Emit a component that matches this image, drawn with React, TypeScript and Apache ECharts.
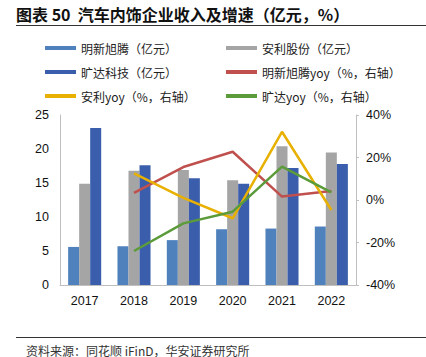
import React, { useEffect, useRef } from "react";
import * as echarts from "echarts";

const years = ["2017", "2018", "2019", "2020", "2021", "2022"];
const mingxinRev = [5.6, 5.7, 6.6, 8.2, 8.3, 8.6];
const anliRev = [14.9, 16.8, 16.9, 15.4, 20.4, 19.5];
const kuangdaRev = [23.1, 17.6, 15.7, 14.9, 17.2, 17.8];
const mingxinYoy: (number | string)[] = ["-", 3.4, 15.5, 22.7, 1.6, 4.2];
const anliYoy: (number | string)[] = ["-", 12.5, 1.0, -8.6, 32.1, -4.7];
const kuangdaYoy: (number | string)[] = ["-", -24, -11, -5.5, 15.7, 3.6];

const names = [
  "明新旭腾（亿元）",
  "安利股份（亿元）",
  "旷达科技（亿元）",
  "明新旭腾yoy（%，右轴）",
  "安利yoy（%，右轴）",
  "旷达yoy（%，右轴）",
];

const C_LBLUE = "#4F81BD";
const C_GRAY = "#A5A5A5";
const C_DBLUE = "#3A5EAB";
const C_RED = "#C0504D";
const C_YEL = "#E8B000";
const C_GREEN = "#5B9B3A";

const CJK = '"Noto Sans CJK SC", sans-serif';
const LAT = '"Liberation Sans", Arial, sans-serif';

export default function App() {
  const ref = useRef<HTMLDivElement>(null);
  useEffect(() => {
    if (!ref.current) return;
    const chart = echarts.init(ref.current, undefined, { renderer: "svg" });
    const legendCommon = {
      orient: "vertical" as const,
      top: 41,
      padding: 0,
      icon: "rect",
      itemWidth: 31,
      itemHeight: 4,
      itemGap: 10,
      textStyle: { fontFamily: CJK, fontSize: 12, color: "#222", lineHeight: 14 },
      selectedMode: false,
    };
    chart.setOption({
      animation: false,
      backgroundColor: "#fff",
      graphic: [
        {
          type: "text",
          x: 16,
          y: 14,
          style: {
            text: "图表 50  汽车内饰企业收入及增速（亿元，%）",
            font: `bold 16px ${CJK}`,
            fill: "#111",
            verticalAlign: "middle",
          },
        },
        {
          type: "line",
          shape: { x1: 16, y1: 25.5, x2: 426, y2: 25.5 },
          style: { stroke: "#333", lineWidth: 1 },
        },
        {
          type: "line",
          shape: { x1: 16, y1: 337.5, x2: 426, y2: 337.5 },
          style: { stroke: "#333", lineWidth: 1 },
        },
        {
          type: "text",
          x: 26,
          y: 350,
          style: {
            text: "资料来源：同花顺 iFinD，华安证券研究所",
            font: `12px ${CJK}`,
            fill: "#333",
            verticalAlign: "middle",
            lineHeight: 12,
          },
        },
      ],
      legend: [
        { ...legendCommon, left: 45, data: [names[0], names[2], names[4]] },
        { ...legendCommon, left: 226, data: [names[1], names[3], names[5]] },
      ],
      grid: { left: 60, right: 70, top: 115, bottom: 72 },
      xAxis: {
        type: "category",
        data: years,
        axisLine: { lineStyle: { color: "#BFBFBF" } },
        axisTick: { show: false },
        axisLabel: { color: "#111", fontFamily: LAT, fontSize: 12.5, margin: 9 },
      },
      yAxis: [
        {
          type: "value",
          min: 0,
          max: 25,
          interval: 5,
          axisLine: { show: true, lineStyle: { color: "#BFBFBF" } },
          axisTick: { show: false },
          splitLine: { show: false },
          axisLabel: { color: "#111", fontFamily: LAT, fontSize: 12.5, margin: 11 },
        },
        {
          type: "value",
          min: -40,
          max: 40,
          interval: 20,
          position: "right",
          axisLine: { show: true, lineStyle: { color: "#BFBFBF" } },
          axisTick: { show: true, length: 3, lineStyle: { color: "#BFBFBF" } },
          splitLine: { show: false },
          axisLabel: { color: "#111", fontFamily: LAT, fontSize: 12.5, margin: 10, formatter: "{value}%" },
        },
      ],
      series: [
        { name: names[0], type: "bar", data: mingxinRev, itemStyle: { color: C_LBLUE }, barGap: "0%", barCategoryGap: "33%" },
        { name: names[1], type: "bar", data: anliRev, itemStyle: { color: C_GRAY } },
        { name: names[2], type: "bar", data: kuangdaRev, itemStyle: { color: C_DBLUE } },
        { name: names[3], type: "line", yAxisIndex: 1, data: mingxinYoy, symbol: "none", lineStyle: { color: C_RED, width: 2.5 }, itemStyle: { color: C_RED } },
        { name: names[4], type: "line", yAxisIndex: 1, data: anliYoy, symbol: "none", lineStyle: { color: C_YEL, width: 2.5 }, itemStyle: { color: C_YEL } },
        { name: names[5], type: "line", yAxisIndex: 1, data: kuangdaYoy, symbol: "none", lineStyle: { color: C_GREEN, width: 2.5 }, itemStyle: { color: C_GREEN } },
      ],
    });
    return () => chart.dispose();
  }, []);
  return <div ref={ref} style={{ width: 426, height: 357, position: "absolute", left: 0, top: 0 }} />;
}
